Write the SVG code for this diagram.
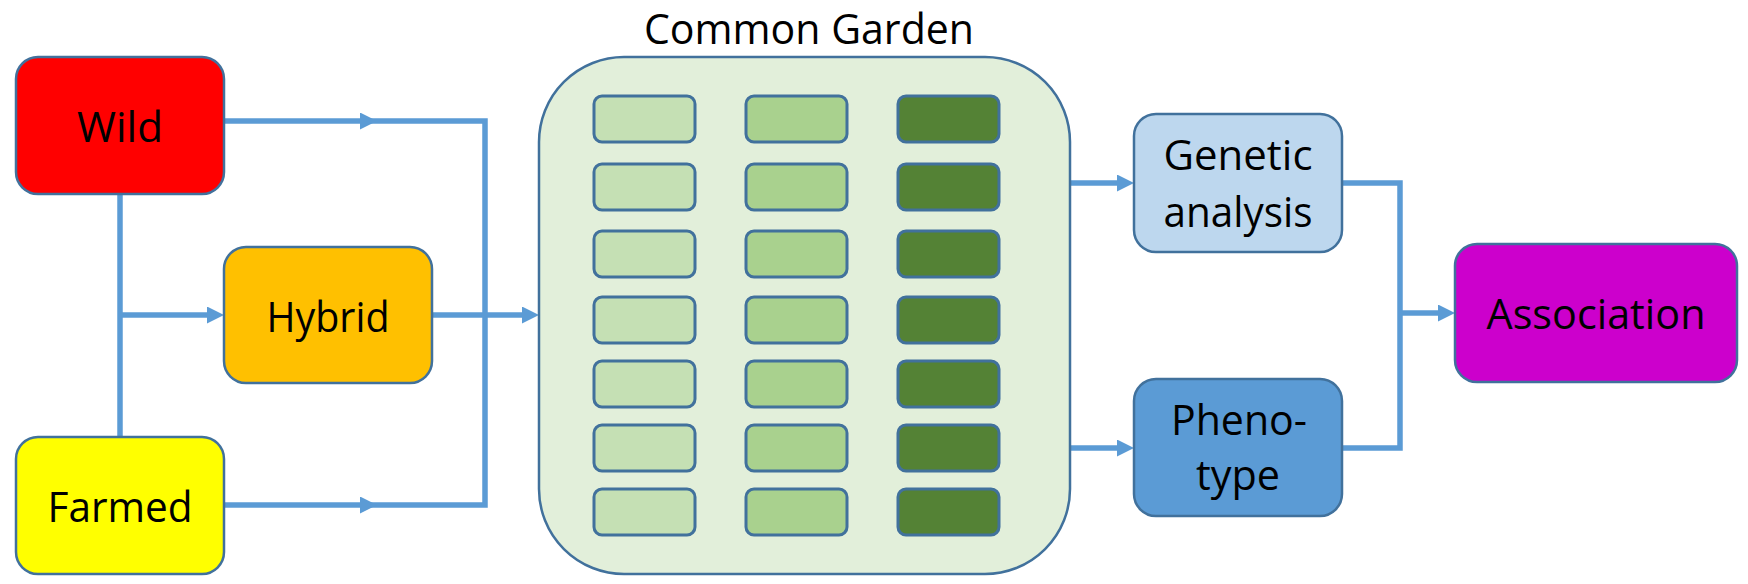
<svg xmlns="http://www.w3.org/2000/svg" width="1748" height="584" viewBox="0 0 1748 584">
  <style>
    .node { stroke: #41719C; stroke-width: 2.5; }
    .plot { stroke: #41719C; stroke-width: 3; }
    .c1 { fill: #C5E0B4; }
    .c2 { fill: #A9D18E; }
    .c3 { fill: #548235; }
    .conn { fill: none; stroke: #5B9BD5; stroke-width: 5.5; }
    .lbl { font-family: "Open Sans", "Liberation Sans", sans-serif; font-size: 42px; fill: #000; text-anchor: middle; }
  </style>
  <defs>
    <marker id="arrow" markerUnits="userSpaceOnUse" markerWidth="17" markerHeight="17" refX="9" refY="8.5" orient="auto">
      <path d="M0,0 L17,8.5 L0,17 Z" fill="#5B9BD5"/>
    </marker>
  </defs>
  <rect width="1748" height="584" fill="#FFFFFF"/>

  <g id="connectors">
    <path class="conn" d="M224,121 H369" marker-end="url(#arrow)"/>
    <path class="conn" d="M369,121 H485 V505 H369"/>
    <path class="conn" d="M224,505 H369" marker-end="url(#arrow)"/>
    <path class="conn" d="M120,194 V437"/>
    <path class="conn" d="M120,315 H216" marker-end="url(#arrow)"/>
    <path class="conn" d="M432,315 H531" marker-end="url(#arrow)"/>
    <path class="conn" d="M1069,183 H1126" marker-end="url(#arrow)"/>
    <path class="conn" d="M1069,448 H1126" marker-end="url(#arrow)"/>
    <path class="conn" d="M1342,183 H1400 V448 H1342"/>
    <path class="conn" d="M1400,313 H1447" marker-end="url(#arrow)"/>
  </g>

  <g id="wild">
    <rect class="node" x="16" y="57" width="208" height="137" rx="22" fill="#FF0000"/>
    <text class="lbl" x="120" y="142" textLength="86" lengthAdjust="spacingAndGlyphs">Wild</text>
  </g>
  <g id="hybrid">
    <rect class="node" x="224" y="247" width="208" height="136" rx="22" fill="#FFC000"/>
    <text class="lbl" x="328" y="332" textLength="123" lengthAdjust="spacingAndGlyphs">Hybrid</text>
  </g>
  <g id="farmed">
    <rect class="node" x="16" y="437" width="208" height="137" rx="22" fill="#FFFF00"/>
    <text class="lbl" x="120" y="522" textLength="145" lengthAdjust="spacingAndGlyphs">Farmed</text>
  </g>

  <g id="common-garden">
    <text class="lbl" x="809" y="44" textLength="330" lengthAdjust="spacingAndGlyphs">Common Garden</text>
    <rect class="node" x="539" y="57" width="531" height="517" rx="85" fill="#E2EFDA"/>
    <g id="plots">
      <rect class="plot c1" x="594" y="96" width="101" height="46" rx="8"/>
      <rect class="plot c2" x="746" y="96" width="101" height="46" rx="8"/>
      <rect class="plot c3" x="898" y="96" width="101" height="46" rx="8"/>
      <rect class="plot c1" x="594" y="164" width="101" height="46" rx="8"/>
      <rect class="plot c2" x="746" y="164" width="101" height="46" rx="8"/>
      <rect class="plot c3" x="898" y="164" width="101" height="46" rx="8"/>
      <rect class="plot c1" x="594" y="231" width="101" height="46" rx="8"/>
      <rect class="plot c2" x="746" y="231" width="101" height="46" rx="8"/>
      <rect class="plot c3" x="898" y="231" width="101" height="46" rx="8"/>
      <rect class="plot c1" x="594" y="297" width="101" height="46" rx="8"/>
      <rect class="plot c2" x="746" y="297" width="101" height="46" rx="8"/>
      <rect class="plot c3" x="898" y="297" width="101" height="46" rx="8"/>
      <rect class="plot c1" x="594" y="361" width="101" height="46" rx="8"/>
      <rect class="plot c2" x="746" y="361" width="101" height="46" rx="8"/>
      <rect class="plot c3" x="898" y="361" width="101" height="46" rx="8"/>
      <rect class="plot c1" x="594" y="425" width="101" height="46" rx="8"/>
      <rect class="plot c2" x="746" y="425" width="101" height="46" rx="8"/>
      <rect class="plot c3" x="898" y="425" width="101" height="46" rx="8"/>
      <rect class="plot c1" x="594" y="489" width="101" height="46" rx="8"/>
      <rect class="plot c2" x="746" y="489" width="101" height="46" rx="8"/>
      <rect class="plot c3" x="898" y="489" width="101" height="46" rx="8"/>
    </g>
  </g>

  <g id="genetic-analysis">
    <rect class="node" x="1134" y="114" width="208" height="138" rx="22" fill="#BDD7EE"/>
    <text class="lbl" x="1238" y="170" textLength="149" lengthAdjust="spacingAndGlyphs">Genetic</text>
    <text class="lbl" x="1238" y="227" textLength="149" lengthAdjust="spacingAndGlyphs">analysis</text>
  </g>
  <g id="phenotype">
    <rect class="node" x="1134" y="379" width="208" height="137" rx="22" fill="#5B9BD5"/>
    <text class="lbl" x="1239" y="435" textLength="136" lengthAdjust="spacingAndGlyphs">Pheno-</text>
    <text class="lbl" x="1238" y="490" textLength="84" lengthAdjust="spacingAndGlyphs">type</text>
  </g>
  <g id="association">
    <rect class="node" x="1455" y="244" width="282" height="138" rx="22" fill="#CC00CC"/>
    <text class="lbl" x="1596" y="329" textLength="219" lengthAdjust="spacingAndGlyphs">Association</text>
  </g>
</svg>
